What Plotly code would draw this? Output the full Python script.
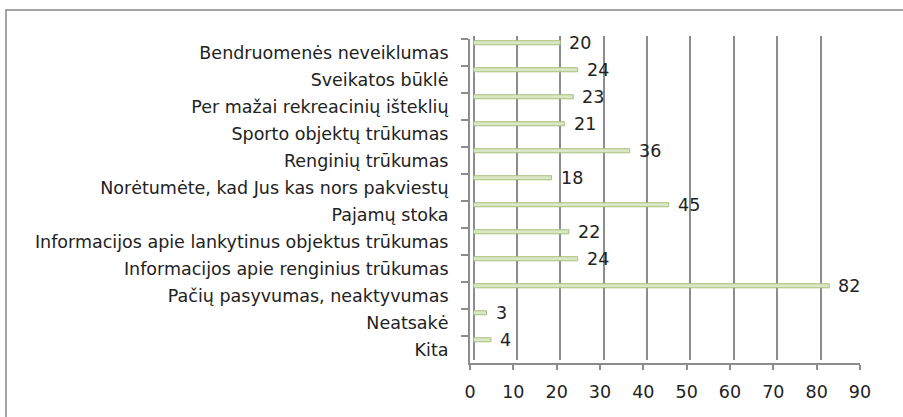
import plotly.graph_objects as go

categories = [
    "Bendruomenės neveiklumas",
    "Sveikatos būklė",
    "Per mažai rekreacinių išteklių",
    "Sporto objektų trūkumas",
    "Renginių trūkumas",
    "Norėtumėte, kad Jus kas nors pakviestų",
    "Pajamų stoka",
    "Informacijos apie lankytinus objektus trūkumas",
    "Informacijos apie renginius trūkumas",
    "Pačių pasyvumas, neaktyvumas",
    "Neatsakė",
    "Kita",
]
values = [20, 24, 23, 21, 36, 18, 45, 22, 24, 82, 3, 4]
x_ticks = [0, 10, 20, 30, 40, 50, 60, 70, 80, 90]

W, H = 903, 417
# pixel geometry of the pseudo-3D plot area
FRONT_L, FRONT_R = 470.0, 860.0
BACK_L, BACK_R = 473.5, 864.0
FRONT_T, FRONT_B = 39.3, 362.7
BACK_T, BACK_B = 36.0, 359.7

PL, PR, PT, PB = FRONT_L, BACK_R, BACK_T, FRONT_B
pw, ph = PR - PL, PB - PT

def px_x(p):
    return (p - PL) / pw

def px_y(p):
    return (PB - p) / ph

FONT = "DejaVu Sans"
FS = 17.5
TXT = "#222222"
GRID = "#8c8c8c"
n = len(categories)
idx = list(range(n))
bar_shift = -0.25

fig = go.Figure()
fig.add_trace(go.Bar(
    x=values,
    y=[i + bar_shift for i in idx],
    orientation="h",
    width=0.15,
    marker=dict(color="#dbe6c4", line=dict(color="#a9c07e", width=1)),
    xaxis="x2", yaxis="y2",
    hoverinfo="skip",
    showlegend=False,
))
# invisible trace to realise the front categorical axis
fig.add_trace(go.Scatter(
    x=[0] * n, y=categories, mode="markers",
    marker=dict(opacity=0), xaxis="x", yaxis="y",
    hoverinfo="skip", showlegend=False,
))

annotations = []
for i, v in zip(idx, values):
    annotations.append(dict(
        x=v, y=i + bar_shift, xref="x2", yref="y2",
        text=str(v), showarrow=False, xanchor="left", yanchor="middle",
        xshift=7, font=dict(family=FONT, size=FS, color=TXT),
    ))

fig.update_layout(
    width=W, height=H,
    margin=dict(l=PL, r=W - PR, t=PT, b=H - PB, pad=0),
    paper_bgcolor="white", plot_bgcolor="rgba(0,0,0,0)",
    font=dict(family=FONT, size=FS, color=TXT),
    xaxis=dict(
        domain=[px_x(FRONT_L), px_x(FRONT_R)], anchor="y",
        range=[0, 90], tickvals=x_ticks, ticktext=[str(t) for t in x_ticks],
        showgrid=False, zeroline=False, showline=True, linecolor=GRID, linewidth=2,
        ticks="outside", ticklen=5, tickcolor=GRID, tickwidth=2,
        ticklabelstandoff=7,
        tickfont=dict(family=FONT, size=FS, color=TXT),
    ),
    yaxis=dict(
        domain=[px_y(FRONT_B), px_y(FRONT_T)], anchor="x",
        type="category", categoryorder="array", categoryarray=categories,
        range=[n - 0.5, -0.5],
        showgrid=False, zeroline=False, showline=True, linecolor=GRID, linewidth=2,
        ticks="outside", ticklen=7, tickcolor=GRID, tickwidth=2, tickson="boundaries",
        ticklabelstandoff=16,
        tickfont=dict(family=FONT, size=FS, color=TXT),
    ),
    xaxis2=dict(
        domain=[px_x(BACK_L), px_x(BACK_R)], anchor="y2",
        range=[0, 90], tickvals=x_ticks, showticklabels=False, ticks="",
        showgrid=True, gridcolor=GRID, gridwidth=2,
        zeroline=True, zerolinecolor=GRID, zerolinewidth=2, showline=False,
    ),
    yaxis2=dict(
        domain=[px_y(BACK_B), px_y(BACK_T)], anchor="x2",
        range=[n - 0.5, -0.5], showticklabels=False, ticks="",
        showgrid=False, zeroline=False, showline=False,
    ),
    annotations=annotations,
    shapes=[dict(
        type="rect", xref="paper", yref="paper",
        x0=px_x(6), x1=px_x(915), y0=px_y(430), y1=px_y(10),
        line=dict(color="#868686", width=1.5), fillcolor="rgba(0,0,0,0)",
        layer="below",
    )],
)

fig.write_html(
    "out.html",
    config={"displayModeBar": False},
    post_script="document.body.style.margin='0';",
)
